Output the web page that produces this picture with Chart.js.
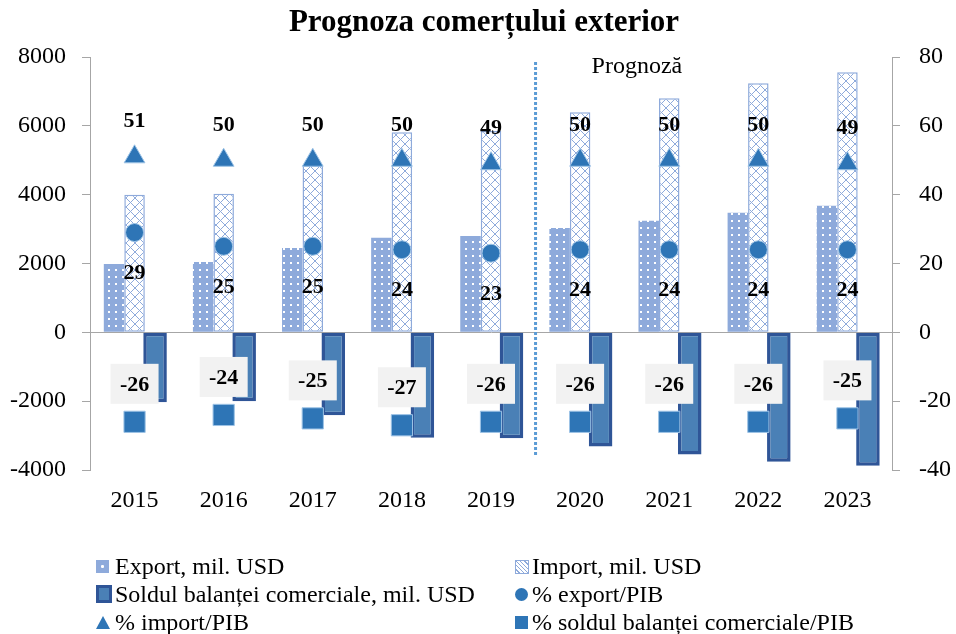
<!DOCTYPE html>
<html>
<head>
<meta charset="utf-8">
<script src="https://cdn.jsdelivr.net/npm/chart.js@4.4.1/dist/chart.umd.min.js"></script>
<style>
  body { margin: 0; background: #fff; }
  #wrap { position: relative; width: 956px; height: 634px; font-family: 'Liberation Serif', serif; color: #000; }
  #title { position: absolute; left: 0; top: 3px; width: 968px; text-align: center; font-weight: bold; font-size: 31px; }
  canvas { position: absolute; left: 0; top: 0; }
  .leg { position: absolute; font-size: 24px; line-height: 26px; white-space: nowrap; }
  .ico { position: absolute; }
</style>
</head>
<body>
<div id="wrap">
  <canvas id="tradeChart" width="956" height="634"></canvas>
  <div id="title">Prognoza comerțului exterior</div>
  <div id="legend"></div>
</div>
<script>
// categories and values
const years = ['2015', '2016', '2017', '2018', '2019', '2020', '2021', '2022', '2023'];
const exportMil = [1985, 2045, 2450, 2745, 2800, 3035, 3240, 3475, 3680];
const importMil = [4000, 4030, 4845, 5810, 5850, 6395, 6805, 7240, 7560];
const soldMil = [-2030, -2000, -2410, -3065, -3080, -3320, -3550, -3760, -3880];
const exportPib = [29, 25, 25, 24, 23, 24, 24, 24, 24];
const importPib = [51, 50, 50, 50, 49, 50, 50, 50, 49];
const soldPib = [-26, -24, -25, -27, -26, -26, -26, -26, -25];
const seriesNames = ['Export, mil. USD', 'Import, mil. USD', 'Soldul balanței comerciale, mil. USD',
    '% export/PIB', '% import/PIB', '% soldul balanței comerciale/PIB'];
const leftTicks = [-4000, 8000, 2000];
const rightTicks = [-40, 80, 20];

const LIGHT = '#8eaadb';
const MARK = '#2e75b6';
const FONT = "'Liberation Serif', serif";

function dotPattern() {
    const c = document.createElement('canvas');
    c.width = 7; c.height = 7;
    const g = c.getContext('2d');
    g.fillStyle = LIGHT; g.fillRect(0, 0, 7, 7);
    g.fillStyle = '#fff'; g.fillRect(3, 3, 2, 2);
    return g.createPattern(c, 'repeat');
}

function hatchPattern() {
    const s = 9;
    const c = document.createElement('canvas');
    c.width = s; c.height = s;
    const g = c.getContext('2d');
    g.fillStyle = '#fff'; g.fillRect(0, 0, s, s);
    g.strokeStyle = LIGHT; g.lineWidth = 1;
    g.beginPath();
    g.moveTo(0, 0); g.lineTo(s, s);
    g.moveTo(s, 0); g.lineTo(0, s);
    g.stroke();
    return g.createPattern(c, 'repeat');
}

// data labels next to the markers
const pointLabels = {
    id: 'pointLabels',
    afterDatasetsDraw(chart) {
        const ctx = chart.ctx;
        ctx.save();
        ctx.font = 'bold 22px ' + FONT;
        ctx.textAlign = 'center';
        ctx.textBaseline = 'middle';
        chart.data.datasets.forEach((ds, i) => {
            if (ds.labelOffset === undefined) return;
            chart.getDatasetMeta(i).data.forEach((pt, j) => {
                const y = pt.y + ds.labelOffset;
                if (ds.labelBox) {
                    ctx.fillStyle = '#f2f2f2';
                    ctx.fillRect(pt.x - 24, y - 20, 48, 40);
                }
                ctx.fillStyle = '#000';
                ctx.fillText(String(ds.data[j]), pt.x, y + 1);
            });
        });
        ctx.restore();
    }
};

// dotted separator between actual data and forecast
const forecastLine = {
    id: 'forecastLine',
    afterDatasetsDraw(chart) {
        const ctx = chart.ctx;
        const xs = chart.scales.x;
        const ys = chart.scales.y;
        const xp = (xs.getPixelForValue(4) + xs.getPixelForValue(5)) / 2;
        ctx.save();
        ctx.strokeStyle = '#5b9bd5';
        ctx.lineWidth = 3;
        ctx.setLineDash([3, 2]);
        ctx.beginPath();
        ctx.moveTo(xp, chart.chartArea.top + 5);
        ctx.lineTo(xp, ys.getPixelForValue(-3600));
        ctx.stroke();
        ctx.setLineDash([]);
        ctx.fillStyle = '#000';
        ctx.font = '24px ' + FONT;
        ctx.textAlign = 'left';
        ctx.textBaseline = 'middle';
        ctx.fillText('Prognoză', xp + 56, chart.chartArea.top + 10);
        ctx.restore();
    }
};

Chart.defaults.font.family = FONT;
Chart.defaults.color = '#000';

new Chart(document.getElementById('tradeChart'), {
    data: {
        labels: years,
        datasets: [
            { type: 'bar', label: seriesNames[0], data: exportMil, yAxisID: 'y', order: 1,
              backgroundColor: dotPattern(), borderWidth: 0 },
            { type: 'bar', label: seriesNames[1], data: importMil, yAxisID: 'y', order: 1,
              backgroundColor: hatchPattern(), borderColor: LIGHT, borderWidth: 1.5, borderSkipped: false },
            { type: 'bar', label: seriesNames[2], data: soldMil, yAxisID: 'y', order: 1, barPercentage: 1.15,
              backgroundColor: '#4a80b6', borderColor: '#2f5597', borderWidth: 3.5, borderSkipped: false },
            { type: 'line', label: seriesNames[3], data: exportPib, yAxisID: 'y1', order: 0, showLine: false,
              pointStyle: 'circle', pointRadius: 9, pointBackgroundColor: MARK, pointBorderColor: '#9dc3e6',
              pointBorderWidth: 1, labelOffset: 40 },
            { type: 'line', label: seriesNames[4], data: importPib, yAxisID: 'y1', order: 0, showLine: false,
              pointStyle: 'triangle', pointRadius: 12, pointBackgroundColor: MARK, pointBorderColor: '#9dc3e6',
              pointBorderWidth: 1, labelOffset: -36 },
            { type: 'line', label: seriesNames[5], data: soldPib, yAxisID: 'y1', order: 0, showLine: false,
              pointStyle: 'rect', pointRadius: 15, pointBackgroundColor: MARK, pointBorderColor: '#9dc3e6',
              pointBorderWidth: 1, labelOffset: -38, labelBox: true }
        ]
    },
    options: {
        responsive: false,
        animation: false,
        layout: { padding: { top: 57, left: 0, right: 0, bottom: 0 } },
        datasets: { bar: { categoryPercentage: 0.69, barPercentage: 1 } },
        plugins: { legend: { display: false }, tooltip: { enabled: false } },
        scales: {
            x: {
                offset: true,
                grid: { display: false, drawTicks: false },
                border: { display: false },
                ticks: { font: { size: 24 }, padding: 16, maxRotation: 0 },
                afterFit(s) { s.height = 164; }
            },
            y: {
                position: 'left',
                min: leftTicks[0], max: leftTicks[1],
                ticks: { stepSize: leftTicks[2], font: { size: 24 }, padding: 16, callback: v => String(v) },
                grid: {
                    color: c => (c.tick && c.tick.value === 0 ? '#a6a6a6' : 'rgba(0,0,0,0)'),
                    tickColor: '#a6a6a6', tickLength: 8
                },
                border: { color: '#a6a6a6' },
                afterFit(s) { s.width = 90; }
            },
            y1: {
                position: 'right',
                min: rightTicks[0], max: rightTicks[1],
                ticks: { stepSize: rightTicks[2], font: { size: 24 }, padding: 19, callback: v => String(v) },
                grid: { drawOnChartArea: false, color: '#a6a6a6', tickColor: '#a6a6a6', tickLength: 8 },
                border: { color: '#a6a6a6' },
                afterFit(s) { s.width = 64; }
            }
        }
    },
    plugins: [pointLabels, forecastLine]
});

// legend in two columns, like the original
const legendIcons = [
    'width:13px;height:13px;background:' + LIGHT + ' radial-gradient(circle, #fff 1.3px, transparent 1.7px);',
    'width:12px;height:12px;border:1px solid ' + LIGHT + ';background:repeating-linear-gradient(45deg,#fff 0 2px,' + LIGHT + ' 2px 3px);',
    'width:10px;height:12px;border:3px solid #2f5597;background:#4a80b6;',
    'width:13px;height:13px;border-radius:50%;background:' + MARK + ';',
    'width:0;height:0;border-left:7px solid transparent;border-right:7px solid transparent;border-bottom:13px solid ' + MARK + ';',
    'width:13px;height:13px;background:' + MARK + ';'
];
const legendEl = document.getElementById('legend');
seriesNames.forEach((name, i) => {
    const col = i % 2, row = Math.floor(i / 2);
    const cy = 566 + row * 28;
    const icoLeft = col === 0 ? 96 : 515;
    const textLeft = col === 0 ? 115 : 532;
    const ico = document.createElement('div');
    ico.className = 'ico';
    ico.style.cssText = legendIcons[i];
    ico.style.left = icoLeft + 'px';
    const h = i === 2 ? 18 : 13;
    ico.style.top = (cy - h / 2) + 'px';
    legendEl.appendChild(ico);
    const t = document.createElement('div');
    t.className = 'leg';
    t.textContent = name;
    t.style.left = textLeft + 'px';
    t.style.top = (cy - 13) + 'px';
    legendEl.appendChild(t);
});
</script>
</body>
</html>
